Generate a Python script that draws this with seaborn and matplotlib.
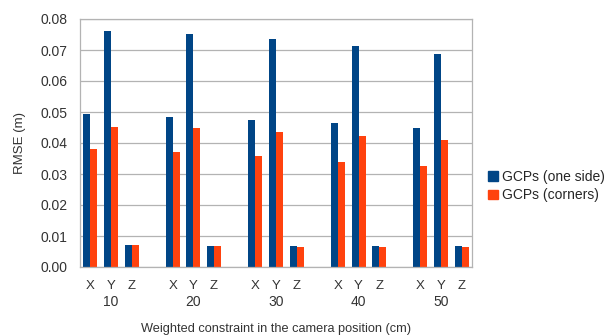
import pandas as pd
import matplotlib
matplotlib.use("Agg")
import matplotlib.pyplot as plt
import matplotlib.transforms as mtransforms
from matplotlib.patches import Patch
import seaborn as sns

groups = ["10", "20", "30", "40", "50"]
axes_names = ["X", "Y", "Z"]
series = ["GCPs (one side)", "GCPs (corners)"]
one_side = [0.0493, 0.0760, 0.0072,
            0.0485, 0.0753, 0.0069,
            0.0473, 0.0737, 0.0069,
            0.0463, 0.0714, 0.0069,
            0.0450, 0.0687, 0.0069]
corners = [0.0380, 0.0453, 0.0072,
           0.0370, 0.0447, 0.0069,
           0.0357, 0.0434, 0.0066,
           0.0340, 0.0423, 0.0066,
           0.0327, 0.0409, 0.0066]
colors = ["#004586", "#ff420e"]

rows = []
order = []
i = 0
for gi, g in enumerate(groups):
    for a in axes_names:
        cat = g + "-" + a
        order.append(cat)
        rows.append({"cat": cat, "series": series[0], "rmse": one_side[i]})
        rows.append({"cat": cat, "series": series[1], "rmse": corners[i]})
        i += 1
    if gi < len(groups) - 1:
        order.append("gap" + g)
df = pd.DataFrame(rows)

sns.set_style("white")
plt.rcParams["font.family"] = ["Liberation Sans", "DejaVu Sans"]
txt = "#333333"

fig = plt.figure(figsize=(6.06, 3.35), dpi=100)
ax = fig.add_axes([80 / 606, 1 - 267 / 335, 392 / 606, 248 / 335])
sns.barplot(data=df, x="cat", y="rmse", hue="series", order=order,
            hue_order=series, palette=colors, width=0.68, saturation=1,
            linewidth=0, ax=ax, legend=False)

ax.set_xlim(-0.5, len(order) - 0.5)
ax.set_ylim(0, 0.08)
ax.set_yticks([j / 100 for j in range(9)])
ax.set_yticklabels([f"{j / 100:.2f}" for j in range(9)], fontsize=10, color=txt)
ax.yaxis.grid(True, color="#b3b3b3", linewidth=0.9)
ax.set_axisbelow(True)

# slot boundaries as ticks, letters as minor labels
ax.set_xticks([k - 0.5 for k in range(len(order) + 1)])
ax.set_xticklabels([])
ax.set_xticks(range(len(order)), minor=True)
ax.set_xticklabels([c.split("-")[1] if "-" in c else "" for c in order],
                   minor=True, fontsize=9.5, color=txt)
ax.tick_params(axis="x", which="major", length=6, color="#b3b3b3", width=0.9)
ax.tick_params(axis="x", which="minor", length=0, pad=9.5)
ax.tick_params(axis="y", length=6, color="#b3b3b3", width=0.9, pad=3)

trans = mtransforms.blended_transform_factory(ax.transData, ax.transAxes)
for gi, g in enumerate(groups):
    ax.text(gi * 4 + 1, -28 / 248, g, transform=trans, ha="center", va="top",
            fontsize=10, color=txt)

for s in ax.spines.values():
    s.set_color("#b3b3b3")
    s.set_linewidth(0.9)

ax.set_xlabel("")
ax.set_ylabel("RMSE (m)", fontsize=9.5, color=txt, labelpad=10)
fig.text(276 / 606, 1 - 329 / 335, "Weighted constraint in the camera position (cm)",
         ha="center", va="center", fontsize=9.2, color=txt)

handles = [Patch(color=c, label=l) for c, l in zip(colors, series)]
ax.legend(handles=handles, loc="center left", bbox_to_anchor=(488 / 606, 1 - 186 / 335),
          bbox_transform=fig.transFigure, frameon=False, fontsize=10,
          handlelength=0.7, handleheight=0.7, handletextpad=0.3,
          labelspacing=0.35, borderaxespad=0, borderpad=0)

fig.savefig("out.png", dpi=100)
